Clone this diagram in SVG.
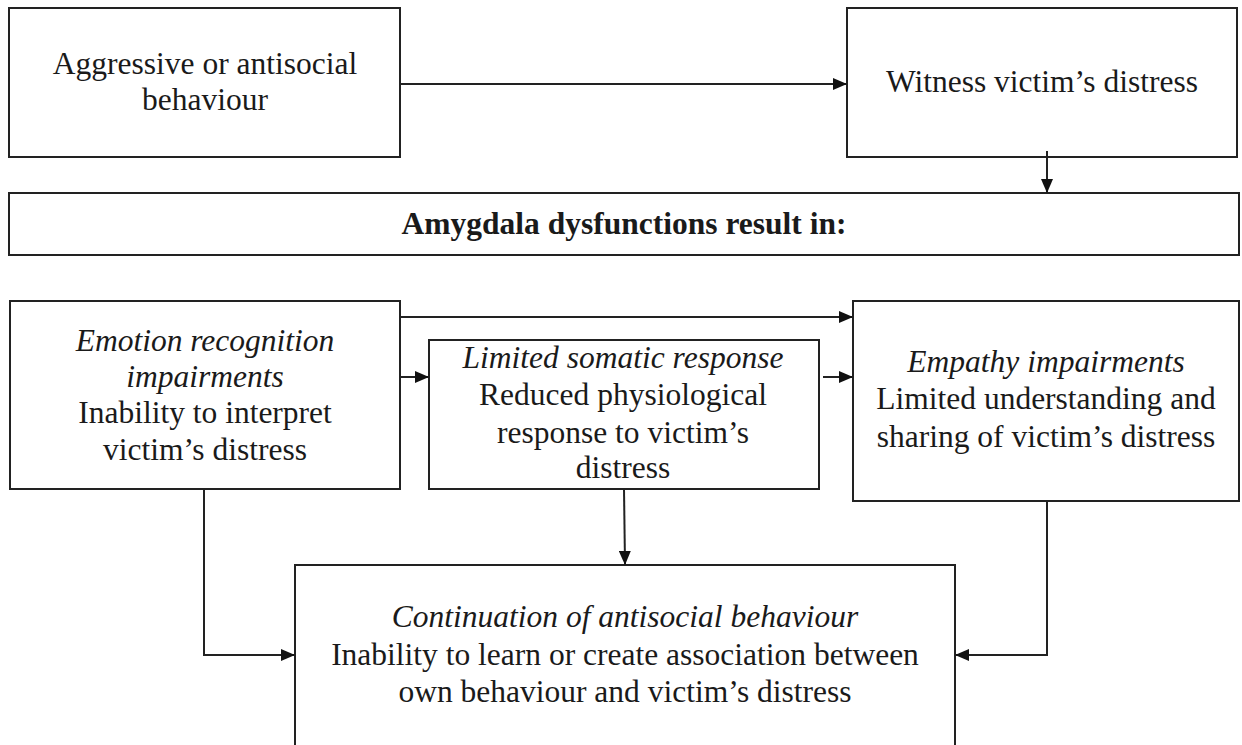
<svg xmlns="http://www.w3.org/2000/svg" width="1242" height="745" viewBox="0 0 1242 745">
<style>
.box{fill:#fff;stroke:#222;stroke-width:2}
.t{font-family:"Liberation Serif","Times New Roman",serif;font-size:31.5px;fill:#1a1a1a;text-anchor:middle}
.i{font-style:italic}
.b{font-weight:bold}
.c{fill:none;stroke:#222;stroke-width:2}
</style>
<defs>
<marker id="ah" markerWidth="14" markerHeight="12" refX="13" refY="6" orient="auto" markerUnits="userSpaceOnUse">
<path d="M0,0 L14,6 L0,12 Z" fill="#111"/>
</marker>
</defs>
<rect width="1242" height="745" fill="#fff"/>
<g id="n1"><rect class="box" x="9" y="8" width="391" height="149"/>
<text class="t" x="205" y="74">Aggressive or antisocial</text>
<text class="t" x="205" y="110">behaviour</text></g>
<g id="n2"><rect class="box" x="847" y="8" width="390" height="149"/>
<text class="t" x="1042" y="92">Witness victim’s distress</text></g>
<g id="n3"><rect class="box" x="9" y="193" width="1230" height="62"/>
<text class="t b" x="624" y="234">Amygdala dysfunctions result in:</text></g>
<g id="n4"><rect class="box" x="10" y="301" width="390" height="188"/>
<text class="t i" x="205" y="351">Emotion recognition</text>
<text class="t i" x="205" y="387">impairments</text>
<text class="t" x="205" y="423">Inability to interpret</text>
<text class="t" x="205" y="460">victim’s distress</text></g>
<g id="n5"><rect class="box" x="429" y="340" width="390" height="149"/>
<text class="t i" x="623" y="368">Limited somatic response</text>
<text class="t" x="623" y="405">Reduced physiological</text>
<text class="t" x="623" y="443">response to victim’s</text>
<text class="t" x="623" y="478">distress</text></g>
<g id="n6"><rect class="box" x="853" y="301" width="386" height="200"/>
<text class="t i" x="1046" y="372">Empathy impairments</text>
<text class="t" x="1046" y="409">Limited understanding and</text>
<text class="t" x="1046" y="447">sharing of victim’s distress</text></g>
<g id="n7"><rect class="box" x="295" y="565" width="660" height="190"/>
<text class="t i" x="625" y="627">Continuation of antisocial behaviour</text>
<text class="t" x="625" y="665">Inability to learn or create association between</text>
<text class="t" x="625" y="702">own behaviour and victim’s distress</text></g>
<g id="connectors">
<path class="c" d="M400,84 H846" marker-end="url(#ah)"/>
<path class="c" d="M1047,151 V192" marker-end="url(#ah)"/>
<path class="c" d="M400,317 H852" marker-end="url(#ah)"/>
<path class="c" d="M400,377 H428" marker-end="url(#ah)"/>
<path class="c" d="M823,377 H852" marker-end="url(#ah)"/>
<path class="c" d="M204,489 V655 H294" marker-end="url(#ah)"/>
<path class="c" d="M624,489 L625,564" marker-end="url(#ah)"/>
<path class="c" d="M1047,501 V655 H956" marker-end="url(#ah)"/>
</g>
</svg>
